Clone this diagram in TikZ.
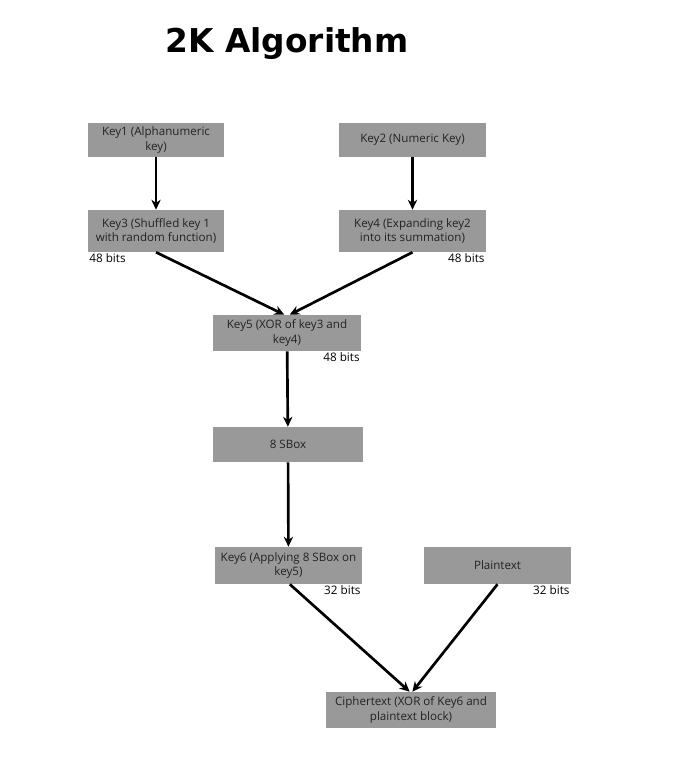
\documentclass[tikz,border=0pt]{standalone}
\usepackage{fontspec}
\setmainfont{Open Sans}
\newfontfamily\titlefont{DejaVu Sans}
\usetikzlibrary{arrows.meta}
\definecolor{boxgray}{RGB}{153,153,153}
\definecolor{txtgray}{RGB}{35,35,35}

\begin{document}
\begin{tikzpicture}[x=0.75pt, y=-0.75pt, >={Stealth[length=7.5pt,width=7pt]},
    keybox/.style={fill=boxgray, text=txtgray, inner sep=0pt, align=center,
        font=\fontsize{8.7}{11.2}\selectfont},
    bits/.style={inner sep=1pt, text=black, font=\fontsize{8.8}{9}\selectfont},
    flow/.style={->, line width=2pt}]
    \useasboundingbox (0,0) rectangle (679,759);

    % title
    \node (title) at (287,44) {\titlefont\bfseries\fontsize{24.6}{28}\selectfont 2K Algorithm};

    % boxes
    \node[keybox, minimum width=102pt, minimum height=25.5pt] (key1) at (156,140) {Key1 (Alphanumeric\\key)};
    \node[keybox, minimum width=110pt, minimum height=25.5pt] (key2) at (412.5,140) {Key2 (Numeric Key)};
    \node[keybox, minimum width=102pt, minimum height=31.5pt] (key3) at (156,231) {Key3 (Shuffled key 1\\with random function)};
    \node[keybox, minimum width=110pt, minimum height=31.5pt] (key4) at (412.5,231) {Key4 (Expanding key2\\into its summation)};
    \node[keybox, minimum width=111pt, minimum height=27pt] (key5) at (287,333) {Key5 (XOR of key3 and\\key4)};
    \node[keybox, minimum width=112.5pt, minimum height=26.25pt] (sbox) at (288,444.5) {8 SBox};
    \node[keybox, minimum width=110pt, minimum height=27.75pt] (key6) at (288.5,565.5) {Key6 (Applying 8 SBox on\\key5)};
    \node[keybox, minimum width=110pt, minimum height=27.75pt] (plain) at (497.5,565.5) {Plaintext};
    \node[keybox, minimum width=127.5pt, minimum height=27pt] (cipher) at (411,710) {Ciphertext (XOR of Key6 and\\plaintext block)};

    % bit sizes
    \node[bits, anchor=north west] (b3) at (key3.south west) {48 bits};
    \node[bits, anchor=north east] (b4) at (key4.south east) {48 bits};
    \node[bits, anchor=north east] (b5) at (key5.south east) {48 bits};
    \node[bits, anchor=north east] (b6) at (key6.south east) {32 bits};
    \node[bits, anchor=north east] (bp) at (plain.south east) {32 bits};

    % arrows
    \draw[flow] (key1) -- (key3);
    \draw[flow] (key2) -- (key4);
    \draw[flow] (key3.south) -- ([xshift=-2pt]key5.north);
    \draw[flow] (key4.south) -- ([xshift=2pt]key5.north);
    \draw[flow] (key5) -- (sbox);
    \draw[flow] (sbox) -- (key6);
    \draw[flow] ([xshift=1pt]key6.south) -- ([xshift=-1pt]cipher.north);
    \draw[flow] (plain.south) -- ([xshift=1pt]cipher.north);
\end{tikzpicture}
\end{document}
